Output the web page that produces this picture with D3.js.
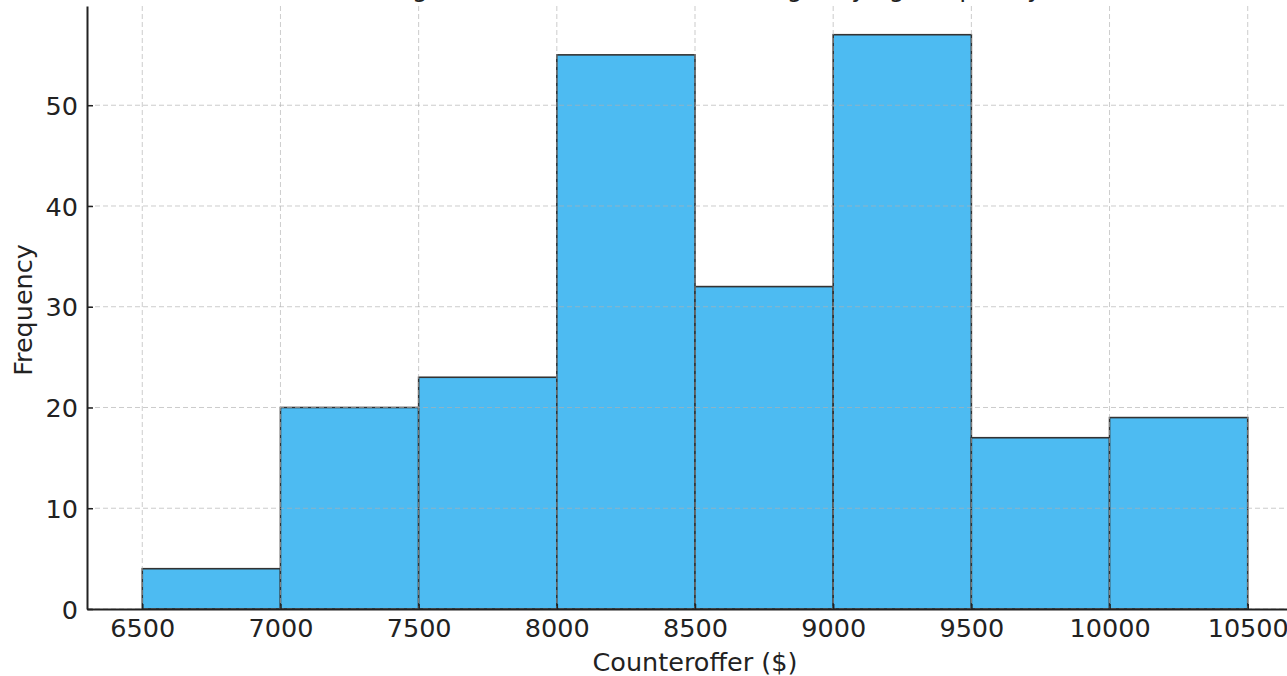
<!DOCTYPE html>
<html>
<head>
<meta charset="utf-8">
<script src="https://cdn.jsdelivr.net/npm/d3@7"></script>
<style>
html,body{margin:0;padding:0;background:#fff;overflow:hidden;}
svg{display:block;font-family:"DejaVu Sans",sans-serif;}
</style>
</head>
<body>
<svg id="chart" width="1287" height="676"></svg>
<script>
const binEdges = [6500, 7000, 7500, 8000, 8500, 9000, 9500, 10000, 10500];
const counts = [4, 20, 23, 55, 32, 57, 17, 19];
const xTicks = [6500, 7000, 7500, 8000, 8500, 9000, 9500, 10000, 10500];
const yTicks = [0, 10, 20, 30, 40, 50];
const titleText = "Histogram of Counteroffers Showing Varying Frequency";
const xLabel = "Counteroffer ($)";
const yLabel = "Frequency";

(function () {
const bins = counts.map((c, i) => ({x0: binEdges[i], x1: binEdges[i + 1], n: c}));

const svg = d3.select("#chart");
const mLeft = 87, mRight = 1303, mTop = 6, mBottom = 609;

const x = d3.scaleLinear().domain([6300, 10700]).range([mLeft, mRight]);
const y = d3.scaleLinear().domain([0, 59.85]).range([mBottom, mTop]);

// bars
svg.append("g").selectAll("rect").data(bins).join("rect")
  .attr("x", d => x(d.x0))
  .attr("y", d => y(d.n))
  .attr("width", d => x(d.x1) - x(d.x0))
  .attr("height", d => y(0) - y(d.n))
  .attr("fill", "#4dbbf2")
  .attr("stroke", "#333333")
  .attr("stroke-width", 1.6);

// grid (on top)
const grid = svg.append("g").attr("stroke", "#b0b0b0").attr("stroke-opacity", 0.65)
  .attr("stroke-width", 1).attr("stroke-dasharray", "5,3");
grid.selectAll("line.v").data(xTicks).join("line").attr("class", "v")
  .attr("x1", d => x(d)).attr("x2", d => x(d)).attr("y1", mTop).attr("y2", mBottom);
grid.selectAll("line.h").data(yTicks).join("line").attr("class", "h")
  .attr("x1", mLeft).attr("x2", mRight).attr("y1", d => y(d)).attr("y2", d => y(d));

// axes
const xAxis = d3.axisBottom(x).tickValues(xTicks).tickFormat(d3.format("d"))
  .tickSizeInner(-5).tickSizeOuter(0).tickPadding(10);
const yAxis = d3.axisLeft(y).tickValues(yTicks).tickFormat(d3.format("d"))
  .tickSizeInner(-6).tickSizeOuter(0).tickPadding(9);

const gx = svg.append("g").attr("transform", `translate(0,${mBottom})`).call(xAxis);
const gy = svg.append("g").attr("transform", `translate(${mLeft},0)`).call(yAxis);
[gx, gy].forEach(g => {
  g.select(".domain").attr("stroke", "#222").attr("stroke-width", 2);
  g.selectAll(".tick line").attr("stroke", "#222").attr("stroke-width", 1.5);
  g.selectAll(".tick text").attr("fill", "#222").style("font-size", "25.5px")
    .style("font-family", "DejaVu Sans, sans-serif");
});
gx.selectAll(".tick text").attr("dy", "0.71em");
gy.selectAll(".tick text").attr("dy", "0.36em");

// labels
svg.append("text").attr("x", (mLeft + mRight) / 2).attr("y", 671)
  .attr("text-anchor", "middle").attr("fill", "#222").style("font-size", "25.5px")
  .text(xLabel);
svg.append("text").attr("transform", `translate(32,310) rotate(-90)`)
  .attr("text-anchor", "middle").attr("fill", "#222").style("font-size", "25.5px")
  .text(yLabel);
svg.append("text").attr("x", (mLeft + mRight) / 2).attr("y", -3)
  .attr("text-anchor", "middle").attr("fill", "#222").style("font-size", "25px")
  .text(titleText);
})();
</script>
</body>
</html>
